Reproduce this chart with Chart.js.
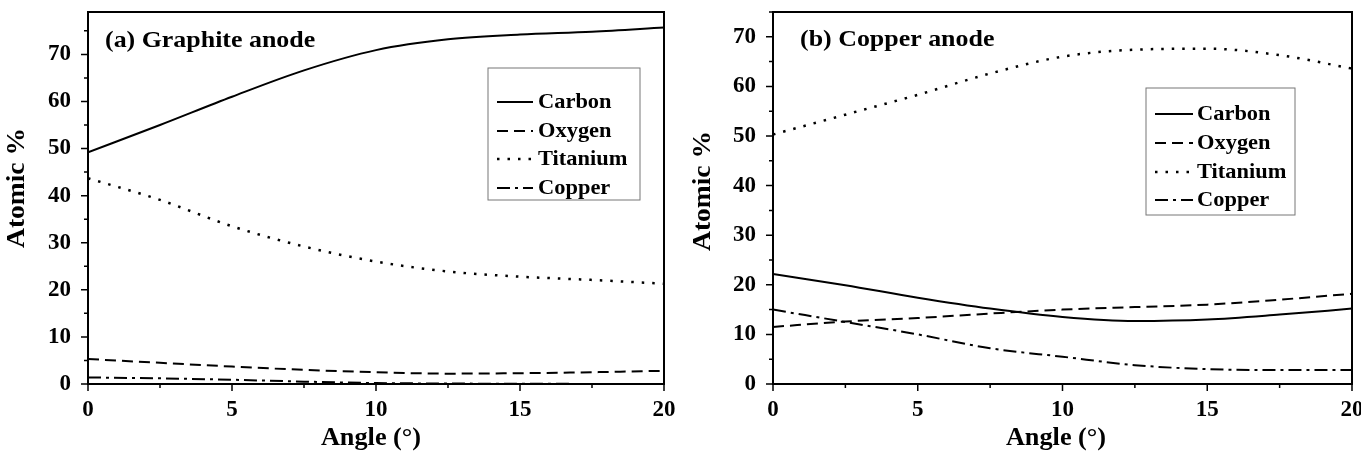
<!DOCTYPE html>
<html>
<head>
<meta charset="utf-8">
<script src="https://cdn.jsdelivr.net/npm/chart.js@4.4.1/dist/chart.umd.min.js"></script>
<style>
  body { margin: 0; background: #fff; }
  .panel { position: absolute; top: 0; height: 455px; }
  #pa { left: 0; width: 680px; }
  #pb { left: 680px; width: 681px; }
</style>
</head>
<body>
<div class="panel" id="pa"><canvas id="chartA"></canvas></div>
<div class="panel" id="pb"><canvas id="chartB"></canvas></div>
<script>
// angle values (deg) where the curves were read
const angles = [0, 2.5, 5, 7.5, 10, 12.5, 15, 17.5, 20];
const seriesNames = ['Carbon', 'Oxygen', 'Titanium', 'Copper'];

// (a) graphite anode
const graphiteCarbon   = [49.2, 55.0, 61.0, 66.6, 70.9, 73.2, 74.2, 74.8, 75.7];
const graphiteOxygen   = [5.3, 4.5, 3.7, 3.0, 2.5, 2.2, 2.3, 2.5, 2.8];
const graphiteTitanium = [43.7, 39.1, 33.5, 29.2, 26.0, 23.9, 22.8, 22.1, 21.3];
const graphiteCopper   = [1.4, 1.2, 0.9, 0.5, 0.2, 0.1, 0.05, 0.02, 0];

// (b) copper anode
const copperCarbon   = [22.2, 19.9, 17.4, 15.2, 13.5, 12.7, 13.0, 14.0, 15.2];
const copperOxygen   = [11.5, 12.6, 13.3, 14.2, 15.0, 15.5, 16.0, 17.0, 18.2];
const copperTitanium = [50.3, 54.3, 58.3, 62.6, 66.0, 67.4, 67.6, 66.3, 63.6];
const copperCopper   = [15.0, 12.5, 10.0, 7.2, 5.5, 3.8, 3.0, 2.8, 2.8];

const xTicks = [0, 5, 10, 15, 20];
const yTicks = [0, 10, 20, 30, 40, 50, 60, 70];

const FONT = "'Liberation Serif', 'Times New Roman', serif";
const dashes = [[], [11, 6], [2.5, 8], [13, 5, 3, 5]];

function makeSets(vals) {
  return vals.map(function(v, i) {
    return {
      label: seriesNames[i],
      data: angles.map(function(a, j) { return { x: a, y: v[j] }; }),
      borderColor: '#000',
      borderWidth: i == 2 ? 2.5 : 2,
      borderDash: dashes[i],
      pointRadius: 0,
      showLine: true,
      fill: false,
      cubicInterpolationMode: 'monotone'
    };
  });
}

// text drawn a bit wider than the font, like the scanned figure
function wideText(ctx, text, x, y, size, sx, rot, align) {
  ctx.save();
  ctx.translate(x, y);
  if (rot) ctx.rotate(rot);
  ctx.scale(sx, 1);
  ctx.font = 'bold ' + size + 'px ' + FONT;
  ctx.textAlign = align || 'center';
  ctx.textBaseline = 'middle';
  ctx.fillStyle = '#000';
  ctx.fillText(text, 0, 0);
  ctx.restore();
}

// frame, minor ticks, axis titles, inset title and legend
const decorPlugin = {
  id: 'decor',
  afterDraw(chart, args, opts) {
    const ctx = chart.ctx;
    const a = chart.chartArea;
    const xs = chart.scales.x, ys = chart.scales.y;
    ctx.save();
    ctx.strokeStyle = '#000';
    ctx.lineWidth = 2;
    ctx.setLineDash([]);
    ctx.strokeRect(a.left, a.top, a.right - a.left, a.bottom - a.top);
    ctx.lineWidth = 1.5;
    ctx.beginPath();
    for (let v = xs.min; v <= xs.max + 0.001; v += 2.5) {
      const px = xs.getPixelForValue(v);
      const len = (v % 5 === 0) ? 7 : 4;
      ctx.moveTo(px, a.bottom); ctx.lineTo(px, a.bottom + len);
    }
    for (let v = 0; v <= ys.max + 0.001; v += 5) {
      const py = ys.getPixelForValue(v);
      const len = (v % 10 === 0) ? 7 : 4;
      ctx.moveTo(a.left, py); ctx.lineTo(a.left - len, py);
    }
    ctx.stroke();
    ctx.restore();

    wideText(ctx, opts.title, opts.titleX, opts.titleY, 24, 1.08, 0, 'left');
    wideText(ctx, 'Angle (\u00b0)', opts.xTitle[0], opts.xTitle[1], 25, 1.05, 0, 'center');
    wideText(ctx, 'Atomic %', opts.yTitle[0], opts.yTitle[1], 25, 1.1, -Math.PI / 2, 'center');

    const L = opts.legend;
    ctx.save();
    ctx.strokeStyle = '#777';
    ctx.lineWidth = 1;
    ctx.strokeRect(L.x, L.y, L.w, L.h);
    chart.data.datasets.forEach(function(ds, i) {
      const y = L.rowY[i];
      ctx.strokeStyle = '#000';
      ctx.lineWidth = ds.borderWidth;
      ctx.setLineDash(ds.borderDash);
      ctx.beginPath();
      ctx.moveTo(L.lineX0, y); ctx.lineTo(L.lineX1, y);
      ctx.stroke();
      ctx.setLineDash([]);
      wideText(ctx, ds.label, L.textX, y, 22, 1.02, 0, 'left');
    });
    ctx.restore();
  }
};

function makeChart(id, vals, yMax, pad, yWidth, decor) {
  return new Chart(document.getElementById(id), {
    type: 'scatter',
    data: { datasets: makeSets(vals) },
    plugins: [decorPlugin],
    options: {
      responsive: true,
      maintainAspectRatio: false,
      animation: false,
      layout: { padding: pad },
      plugins: {
        legend: { display: false },
        tooltip: { enabled: false },
        decor: decor
      },
      scales: {
        x: {
          type: 'linear', min: 0, max: 20,
          afterBuildTicks: function(s) { s.ticks = xTicks.map(function(v) { return { value: v }; }); },
          grid: { display: false },
          border: { display: false },
          ticks: { color: '#000', font: { family: FONT, size: 23, weight: 'bold' }, padding: 4, maxRotation: 0 },
          afterFit: function(s) { s.height = 71; s.paddingLeft = 0; s.paddingRight = 0; }
        },
        y: {
          type: 'linear', min: 0, max: yMax,
          afterBuildTicks: function(s) { s.ticks = yTicks.map(function(v) { return { value: v }; }); },
          grid: { display: false },
          border: { display: false },
          ticks: { color: '#000', font: { family: FONT, size: 23, weight: 'bold' }, padding: 9 },
          afterFit: function(s) { s.width = yWidth; s.paddingTop = 0; s.paddingBottom = 0; }
        }
      }
    }
  });
}

makeChart('chartA',
  [graphiteCarbon, graphiteOxygen, graphiteTitanium, graphiteCopper],
  79, { left: 0, right: 16, top: 12, bottom: 0 }, 88,
  { title: '(a) Graphite anode', titleX: 105, titleY: 41,
    xTitle: [371, 439], yTitle: [18, 188],
    legend: { x: 488, y: 68, w: 152, h: 132, rowY: [102, 131, 159, 188], lineX0: 497, lineX1: 533, textX: 538 } });

makeChart('chartB',
  [copperCarbon, copperOxygen, copperTitanium, copperCopper],
  75, { left: 0, right: 9, top: 12, bottom: 0 }, 93,
  { title: '(b) Copper anode', titleX: 120, titleY: 40,
    xTitle: [376, 439], yTitle: [24, 191],
    legend: { x: 466, y: 88, w: 149, h: 127, rowY: [114, 143, 172, 200], lineX0: 475, lineX1: 513, textX: 517 } });
</script>
</body>
</html>
